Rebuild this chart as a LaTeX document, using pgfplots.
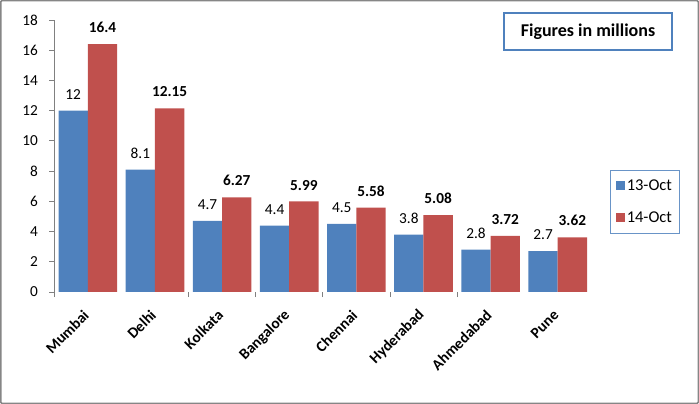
\documentclass[border=0pt]{standalone}
\usepackage{fontspec}
\setmainfont{Carlito}
\usepackage{pgfplots}
\pgfplotsset{compat=1.18}

\definecolor{xlblue}{HTML}{4F81BD}
\definecolor{xlred}{HTML}{C0504D}
\definecolor{framegray}{HTML}{868686}

\pgfplotstableread{
x city      oct13 oct14
0 Mumbai    12    16.4
1 Delhi     8.1   12.15
2 Kolkata   4.7   6.27
3 Bangalore 4.4   5.99
4 Chennai   4.5   5.58
5 Hyderabad 3.8   5.08
6 Ahmedabad 2.8   3.72
7 Pune      2.7   3.62
}\cities

\begin{document}
\fontsize{15.3bp}{18bp}\selectfont
\begin{tikzpicture}
\useasboundingbox (0,0) rectangle (699bp,404bp);
\draw[framegray, line width=1.5bp, rounded corners=1bp] (0.75bp,0.75bp) rectangle (698.25bp,403.25bp);

\begin{axis}[
    at={(54.3bp,112bp)}, anchor=south west,
    scale only axis,
    width=537bp, height=272bp,
    xmin=-0.5, xmax=7.5,
    ymin=0, ymax=18,
    ytick={0,2,...,18},
    xtick={0,...,7},
    xticklabels from table={\cities}{city},
    axis lines*=left,
    x axis line style={draw=none},
    y axis line style={draw=black!50, line width=0.8bp},
    ytick style={draw=black!50, line width=0.8bp},
    xtick style={draw=none},
    major tick length=5bp,
    tick align=outside,
    extra x ticks={-0.5,1.5,2.5,3.5,4.5,5.5},
    extra x tick labels={},
    extra x tick style={xtick style={draw=black!50, line width=0.8bp}},
    /pgf/number format/assume math mode=true,
    yticklabel style={xshift=-6bp},
    xticklabel style={xshift=2bp, yshift=-12bp, rotate=45, anchor=east, font=\bfseries},
    ybar=0pt,
    bar width=29.3bp,
    nodes near coords,
    every node near coord/.append style={yshift=6bp},
    legend style={at={(1.0355,0.331)}, anchor=west, draw=xlblue!85, line width=0.8bp,
        font=\fontsize{16.5bp}{19bp}\selectfont,
        row sep=15bp, inner xsep=5bp, inner ysep=7bp, cells={anchor=west}},
    legend image code/.code={\fill[#1, draw=none] (0bp,-4.5bp) rectangle (9bp,4.5bp);},
]
\addplot[fill=xlblue, draw=none] table[x=x, y=oct13] {\cities};
\addplot[fill=xlred, draw=none, every node near coord/.append style={font=\bfseries}] table[x=x, y=oct14] {\cities};
\legend{13-Oct, 14-Oct}
\end{axis}

\node[draw=xlblue, line width=1.5bp, minimum width=168bp, minimum height=37bp,
    font=\bfseries\fontsize{18bp}{21bp}\selectfont]
    at (588bp,372.5bp) {Figures in millions};
\end{tikzpicture}
\end{document}
